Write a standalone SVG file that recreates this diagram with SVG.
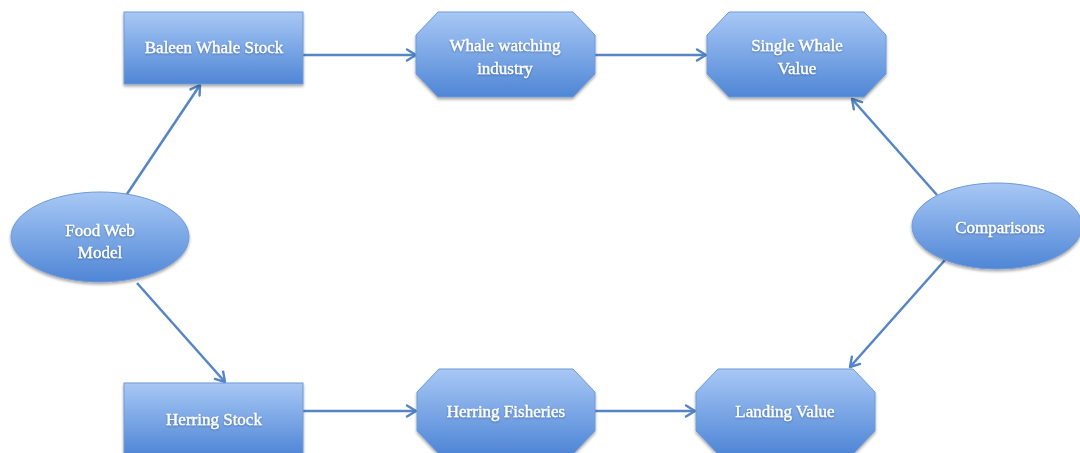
<svg xmlns="http://www.w3.org/2000/svg" width="1080" height="453" viewBox="0 0 1080 453">
  <defs>
    <linearGradient id="g" x1="0" y1="0" x2="0" y2="1">
      <stop offset="0" stop-color="#a8c8f5"/>
      <stop offset="1" stop-color="#4f86d6"/>
    </linearGradient>
    <filter id="sh" x="-10%" y="-10%" width="120%" height="130%">
      <feGaussianBlur in="SourceAlpha" stdDeviation="1.5"/>
      <feOffset dx="0" dy="2" result="b"/>
      <feComponentTransfer><feFuncA type="linear" slope="0.35"/></feComponentTransfer>
      <feMerge><feMergeNode/><feMergeNode in="SourceGraphic"/></feMerge>
    </filter>
    <filter id="ts" x="-10%" y="-30%" width="120%" height="160%">
      <feGaussianBlur in="SourceAlpha" stdDeviation="0.8"/>
      <feOffset dx="0" dy="1"/>
      <feComponentTransfer><feFuncA type="linear" slope="0.3"/></feComponentTransfer>
      <feMerge><feMergeNode/><feMergeNode in="SourceGraphic"/></feMerge>
    </filter>
    <marker id="ah" viewBox="0 0 14 14" refX="12" refY="7" markerWidth="14" markerHeight="14" markerUnits="userSpaceOnUse" orient="auto">
      <path d="M3,1.5 L12,7 L3,12.5" fill="none" stroke="#5585c6" stroke-width="2.4" stroke-linecap="round" stroke-linejoin="round"/>
    </marker>
  </defs>
  <style>
    .s { fill: url(#g); stroke: #6f9ad6; stroke-width: 1; filter: url(#sh); }
    .t { font-family: "Liberation Serif", "DejaVu Serif", serif; font-size: 17px; fill: #ffffff; stroke: #ffffff; stroke-width: 0.35; text-anchor: middle; filter: url(#ts); }
    .c { stroke: #5585c6; stroke-width: 2.5; fill: none; marker-end: url(#ah); }
  </style>
  <rect width="1080" height="453" fill="#ffffff"/>
  <g id="connectors">
    <line class="c" x1="303" y1="55" x2="416" y2="55"/>
    <line class="c" x1="595" y1="55" x2="706" y2="55"/>
    <line class="c" x1="125" y1="197" x2="200" y2="85"/>
    <line class="c" x1="137" y1="283" x2="225" y2="382"/>
    <line class="c" x1="303" y1="411" x2="416" y2="411"/>
    <line class="c" x1="595" y1="411" x2="695" y2="411"/>
    <line class="c" x1="937" y1="195" x2="852" y2="99"/>
    <line class="c" x1="945" y1="260" x2="850" y2="367"/>
  </g>
  <g id="baleen">
    <rect class="s" x="124" y="12" width="179" height="72"/>
    <text class="t" x="214" y="53">Baleen Whale Stock</text>
  </g>
  <g id="whalewatching">
    <polygon class="s" points="438,12 573,12 595,35 595,74 573,97 438,97 416,74 416,35"/>
    <text class="t" x="505" y="51">Whale watching</text>
    <text class="t" x="505" y="74">industry</text>
  </g>
  <g id="singlewhale">
    <polygon class="s" points="729,12 864,12 886,35 886,74 864,97 729,97 707,74 707,35"/>
    <text class="t" x="797" y="51">Single Whale</text>
    <text class="t" x="797" y="74">Value</text>
  </g>
  <g id="foodweb">
    <ellipse class="s" cx="100" cy="237" rx="89" ry="45"/>
    <text class="t" x="100" y="236">Food Web</text>
    <text class="t" x="100" y="258">Model</text>
  </g>
  <g id="comparisons">
    <ellipse class="s" cx="997" cy="226" rx="85" ry="43"/>
    <text class="t" x="1000" y="233">Comparisons</text>
  </g>
  <g id="herringstock">
    <rect class="s" x="124" y="383" width="179" height="72"/>
    <text class="t" x="214" y="425">Herring Stock</text>
  </g>
  <g id="herringfisheries">
    <polygon class="s" points="439,369 573,369 595,392 595,431 573,454 439,454 417,431 417,392"/>
    <text class="t" x="506" y="417">Herring Fisheries</text>
  </g>
  <g id="landing">
    <polygon class="s" points="718,369 853,369 875,392 875,431 853,454 718,454 696,431 696,392"/>
    <text class="t" x="785" y="417">Landing Value</text>
  </g>
</svg>
